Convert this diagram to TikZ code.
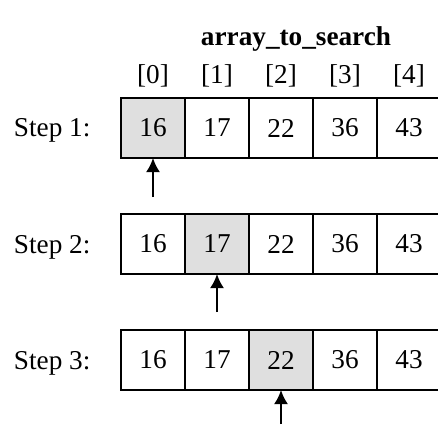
\documentclass[tikz,border=0pt]{standalone}
\usepackage{fontspec}
\setmainfont{Liberation Serif}
\usetikzlibrary{arrows.meta,positioning}
\tikzset{
  cell/.style={draw,minimum width=1.28cm,minimum height=1.2cm,inner sep=0pt,outer sep=0pt},
  hit/.style={fill=gray!25},
  pointer/.style={-{Latex[length=8pt,width=8pt]},line width=1.2pt}
}
\begin{document}
\begin{tikzpicture}[x=0.02cm,y=0.02cm,line width=1.1pt,
  font=\fontsize{15.5pt}{18pt}\selectfont]
\useasboundingbox (0,0) rectangle (438,-425);

    \node[font=\fontsize{15.5pt}{18pt}\selectfont\bfseries] (title) at (296,-39) {array\_to\_search};
    \foreach \i in {0,...,4}
      \node (idx\i) at (153+64*\i,-76) {[\i]};

    % rows of the array, one per step
    \foreach \r/\y in {1/-128,2/-244,3/-360}{
      \node[anchor=base west,inner sep=0pt] (step\r) at (13,\y-9) {Step \r:};
      \foreach \v [count=\i from 0] in {16,17,22,36,43}{
        \pgfmathtruncatemacro{\k}{\r-1}
        \ifnum\i=\k
          \node[cell,hit] (c\r\i) at (153+64*\i,\y) {\v};
        \else
          \node[cell] (c\r\i) at (153+64*\i,\y) {\v};
        \fi
      }
    }

    \coordinate (p1) at (153,-197);
    \coordinate (p2) at (217,-312);
    \coordinate (p3) at (281,-424);
    \draw[pointer] (p1) -- (c10.south);
    \draw[pointer] (p2) -- (c21.south);
    \draw[pointer] (p3) -- (c32.south);
  \end{tikzpicture}
\end{document}
